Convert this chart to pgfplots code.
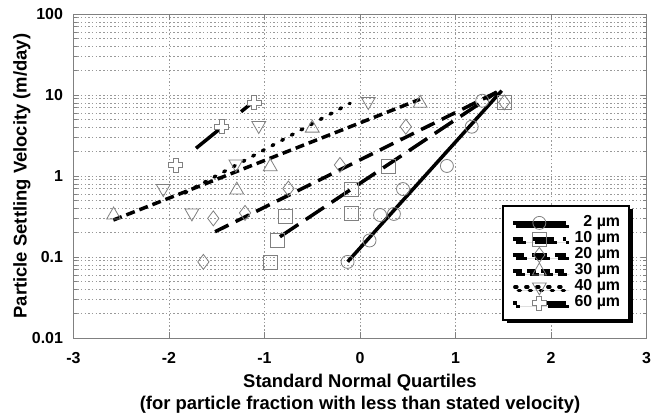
\documentclass[border=0pt]{standalone}
\usepackage{fontspec}
\setmainfont{Liberation Sans}
\usepackage{pgfplots}
\pgfplotsset{compat=1.18}
\usetikzlibrary{shadows}

% hollow plus marker
\pgfdeclareplotmark{hplus}{%
  \pgfpathmoveto{\pgfpoint{-0.36\pgfplotmarksize}{\pgfplotmarksize}}%
  \pgfpathlineto{\pgfpoint{0.36\pgfplotmarksize}{\pgfplotmarksize}}%
  \pgfpathlineto{\pgfpoint{0.36\pgfplotmarksize}{0.36\pgfplotmarksize}}%
  \pgfpathlineto{\pgfpoint{\pgfplotmarksize}{0.36\pgfplotmarksize}}%
  \pgfpathlineto{\pgfpoint{\pgfplotmarksize}{-0.36\pgfplotmarksize}}%
  \pgfpathlineto{\pgfpoint{0.36\pgfplotmarksize}{-0.36\pgfplotmarksize}}%
  \pgfpathlineto{\pgfpoint{0.36\pgfplotmarksize}{-\pgfplotmarksize}}%
  \pgfpathlineto{\pgfpoint{-0.36\pgfplotmarksize}{-\pgfplotmarksize}}%
  \pgfpathlineto{\pgfpoint{-0.36\pgfplotmarksize}{-0.36\pgfplotmarksize}}%
  \pgfpathlineto{\pgfpoint{-\pgfplotmarksize}{-0.36\pgfplotmarksize}}%
  \pgfpathlineto{\pgfpoint{-\pgfplotmarksize}{0.36\pgfplotmarksize}}%
  \pgfpathlineto{\pgfpoint{-0.36\pgfplotmarksize}{0.36\pgfplotmarksize}}%
  \pgfpathclose
  \pgfusepathqfillstroke
}

\pgfplotsset{
  pts/.style={only marks, forget plot, draw=black!50, line width=0.8pt},
  fit/.style={black, line width=3.5bp, forget plot},
}
\tikzset{mk/.style={solid, draw=black!50, line width=0.8pt}}

\begin{document}
\begin{tikzpicture}
\useasboundingbox (-73.5bp,-79bp) rectangle (586.5bp,338bp);
\begin{axis}[
  at={(0,0)}, anchor=south west,
  scale only axis, width=573bp, height=324bp,
  xmin=-3, xmax=3, ymin=0.01, ymax=100, ymode=log,
  xtick={-3,-2,-1,0,1,2,3}, xticklabels={-3,-2,-1,0,1,2,3},
  ytick={0.01,0.1,1,10,100}, yticklabels={0.01,0.1,1,10,100},
  grid=both,
  major grid style={black!40, dash pattern=on 1.5bp off 2.2bp, line width=0.6pt},
  minor grid style={black!40, dash pattern=on 1.5bp off 2.2bp, line width=0.6pt},
  axis line style={black!50, line width=0.8pt},
  tick style={black!50, line width=0.6pt},
  major tick length=6bp, minor tick length=4bp,
  tick align=inside,
  ticklabel style={font=\bfseries\fontsize{16}{16}\selectfont, text=black},
  xticklabel style={yshift=-11bp},
  yticklabel style={xshift=-7bp},
  label style={font=\bfseries\fontsize{18.5}{22}\selectfont},
  ylabel={Particle Settling Velocity (m/day)},
  ylabel style={at={(axis description cs:0,0.5)}, anchor=center, yshift=51.5bp},
  xlabel={Standard Normal Quartiles\\(for particle fraction with less than stated velocity)},
  xlabel style={align=center, at={(axis description cs:0.5,0)}, anchor=center, yshift=-56bp},
  legend style={at={(rel axis cs:0.971,0.41)}, anchor=north east,
    draw=black, line width=1.5bp, fill=white,
    drop shadow={shadow xshift=3.5bp, shadow yshift=-3.5bp, opacity=1, fill=black},
    font=\bfseries\fontsize{16}{16}\selectfont,
    inner xsep=8bp, inner ysep=9bp, row sep=0pt,
    nodes={inner ysep=0.5bp, inner xsep=1bp, text height=11.5bp, text depth=3.5bp},
    /tikz/every odd column/.append style={column sep=6bp}},
  legend cell align=right,
  legend image code/.code={\draw[mark repeat=2,mark phase=2,#1] plot coordinates {(0bp,0bp) (26.5bp,0bp) (53bp,0bp)};},
]

% measured points
\addplot[pts, mark=o, mark size=6.5bp] coordinates {
  (-0.13,0.087) (0.10,0.16) (0.21,0.33) (0.355,0.34) (0.45,0.69) (0.91,1.33) (1.17,4.06) (1.28,8.5)};
\addplot[pts, mark=square, mark size=7bp] coordinates {
  (-0.935,0.087) (-0.86,0.16) (-0.785,0.315) (-0.094,0.35) (-0.094,0.685) (0.296,1.33) (1.51,8.1)};
\addplot[pts, mark=diamond, mark size=7.5bp] coordinates {
  (-1.64,0.087) (-1.536,0.30) (-1.204,0.35) (-0.75,0.70) (-0.21,1.37) (0.48,4.06) (1.51,8.1)};
\addplot[pts, mark=triangle, mark size=8bp] coordinates {
  (-2.58,0.33) (-1.29,0.67) (-0.94,1.30) (-0.50,3.9) (0.63,7.9)};
\addplot[pts, mark=triangle, mark size=8bp, mark options={rotate=180}] coordinates {
  (-2.06,0.70) (-1.76,0.35) (-1.30,1.41) (-1.06,4.2) (0.087,8.3)};
\addplot[pts, mark=hplus, mark size=7bp, fill=white] coordinates {
  (-1.93,1.37) (-1.45,4.06) (-1.11,8.0)};

% fitted lines
\addplot[fit] coordinates {(-0.129,0.0875) (1.484,11.3)};
\addplot[fit, dash pattern=on 22bp off 9bp] coordinates {(-0.838,0.178) (1.435,10.9)};
\addplot[fit, dash pattern=on 15bp off 8bp] coordinates {(-1.518,0.205) (1.435,10.9)};
\addplot[fit, dash pattern=on 9bp off 5bp] coordinates {(-2.583,0.286) (0.628,8.86)};
\addplot[fit, line cap=round, dash pattern=on 2bp off 9bp] coordinates {(-1.832,0.62) (-0.105,7.9)};
\addplot[fit, dash pattern=on 30bp off 28bp] coordinates {(-1.717,2.20) (-1.120,8.2)};

% legend
\addlegendimage{black, line width=3.5bp, mark=o, mark options={mk, mark size=6.5bp}}
\addlegendentry{2 µm}
\addlegendimage{black, line width=3.5bp, dash pattern=on 22bp off 9bp, dash phase=12bp, mark=square, mark options={mk, mark size=7bp}}
\addlegendentry{10 µm}
\addlegendimage{black, line width=3.5bp, dash pattern=on 15bp off 8bp, dash phase=4bp, mark=diamond, mark options={mk, mark size=7.5bp}}
\addlegendentry{20 µm}
\addlegendimage{black, line width=3.5bp, dash pattern=on 9bp off 5bp, mark=triangle, mark options={mk, mark size=8bp}}
\addlegendentry{30 µm}
\addlegendimage{black, line width=3.5bp, line cap=round, dash pattern=on 2bp off 9bp, dash phase=-2bp, mark=triangle, mark options={mk, mark size=8bp, rotate=180}}
\addlegendentry{40 µm}
\addlegendimage{black, line width=3.5bp, dash pattern=on 30bp off 28bp, dash phase=26bp, mark=hplus, mark options={mk, fill=white, mark size=7bp}}
\addlegendentry{60 µm}
\end{axis}
\end{tikzpicture}
\end{document}
